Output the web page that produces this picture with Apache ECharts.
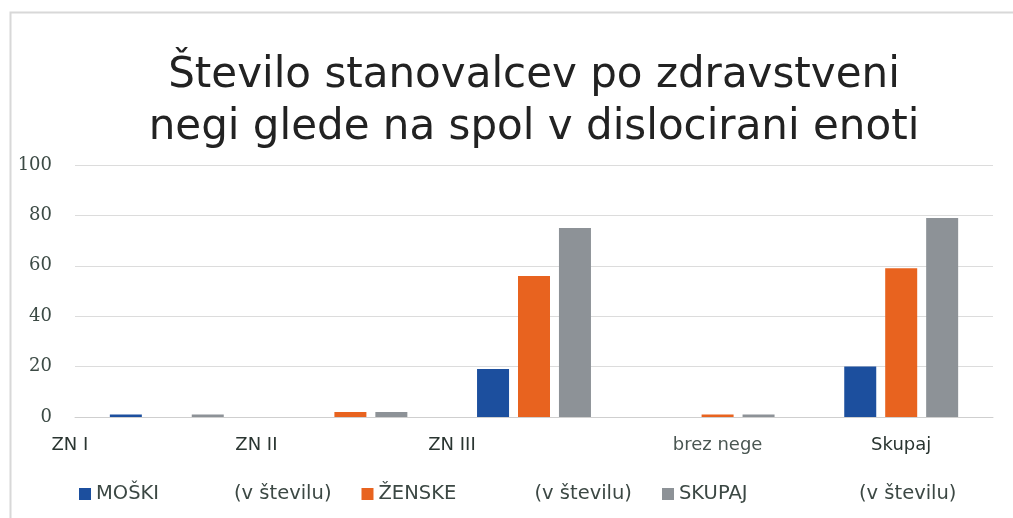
<!DOCTYPE html>
<html><head><meta charset="utf-8">
<script src="https://cdn.jsdelivr.net/npm/echarts@6/dist/echarts.min.js"></script>
<style>html,body{margin:0;padding:0;background:#fff}#c{width:1013px;height:518px}</style>
</head><body><div id="c"></div>
<script>
const categories = ['ZN I', 'ZN II', 'ZN III', 'brez nege', 'Skupaj'];
const moski = [1, 0, 19, 0, 20];
const zenske = [0, 2, 56, 1, 59];
const skupaj = [1, 2, 75, 1, 79];
const yTicks = [0, 20, 40, 60, 80, 100];
const seriesNames = ['MOŠKI (v številu)', 'ŽENSKE (v številu)', 'SKUPAJ (v številu)'];

const chart = echarts.init(document.getElementById('c'));
const labelRich = ['l0', 'l1', 'l2', 'l3', 'l4'];
const lblBase = { fontFamily: 'DejaVu Sans', fontSize: 18, color: '#2a3531' };
const legFont = { fontFamily: 'DejaVu Sans', fontSize: 19.5, color: '#3c4844' };
chart.setOption({
  animation: false,
  graphic: [{
    type: 'rect', left: 8, top: 10,
    shape: { width: 1100, height: 600 },
    style: { fill: 'none', stroke: '#d8d8d8', lineWidth: 2 }
  }],
  title: {
    text: 'Število stanovalcev po zdravstveni\nnegi glede na spol v dislocirani enoti',
    left: 529, textAlign: 'center', top: 45,
    textStyle: { fontFamily: 'DejaVu Sans', fontSize: 42, fontWeight: 'normal', color: '#222', lineHeight: 52 }
  },
  legend: {
    left: 79, top: 484, padding: 0, itemWidth: 12, itemHeight: 12, itemGap: 30,
    icon: 'rect',
    data: seriesNames,
    formatter: function (n) {
      const i = seriesNames.indexOf(n);
      const parts = n.split(' (');
      return '{a' + i + '|' + parts[0] + '}{b|(' + parts[1] + '}';
    },
    textStyle: Object.assign({
      rich: {
        a0: Object.assign({ width: 138 }, legFont),
        a1: Object.assign({ width: 156 }, legFont),
        a2: Object.assign({ width: 180 }, legFont),
        b: Object.assign({}, legFont)
      }
    }, legFont)
  },
  grid: { left: 75, right: 20, top: 165, bottom: 101, containLabel: false },
  xAxis: {
    type: 'category', data: categories,
    axisLine: { lineStyle: { color: '#cfcfcf', width: 1 } },
    axisTick: { show: false },
    axisLabel: {
      margin: 19, interval: 0,
      formatter: function (v, i) { return '{' + labelRich[i] + '|' + v + '}'; },
      rich: {
        l0: Object.assign({ padding: [0, 194, 0, 0] }, lblBase),
        l1: Object.assign({ padding: [0, 188, 0, 0] }, lblBase),
        l2: Object.assign({ padding: [0, 164, 0, 0] }, lblBase),
        l3: Object.assign({}, lblBase, { color: '#4a5652' }),
        l4: Object.assign({}, lblBase)
      }
    }
  },
  yAxis: {
    type: 'value', min: yTicks[0], max: yTicks[yTicks.length - 1], interval: 20,
    axisLine: { show: false }, axisTick: { show: false },
    splitLine: { lineStyle: { color: '#dcdcdc', width: 1 } },
    axisLabel: { margin: 23, fontFamily: 'DejaVu Serif', fontSize: 18, color: '#3c4a45' }
  },
  series: [
    { name: seriesNames[0], type: 'bar', data: moski, barWidth: 32, barGap: '28%', itemStyle: { color: '#1c4f9e' } },
    { name: seriesNames[1], type: 'bar', data: zenske, barWidth: 32, barGap: '28%', itemStyle: { color: '#e8631f' } },
    { name: seriesNames[2], type: 'bar', data: skupaj, barWidth: 32, barGap: '28%', itemStyle: { color: '#8d9297' } }
  ]
});
</script></body></html>
